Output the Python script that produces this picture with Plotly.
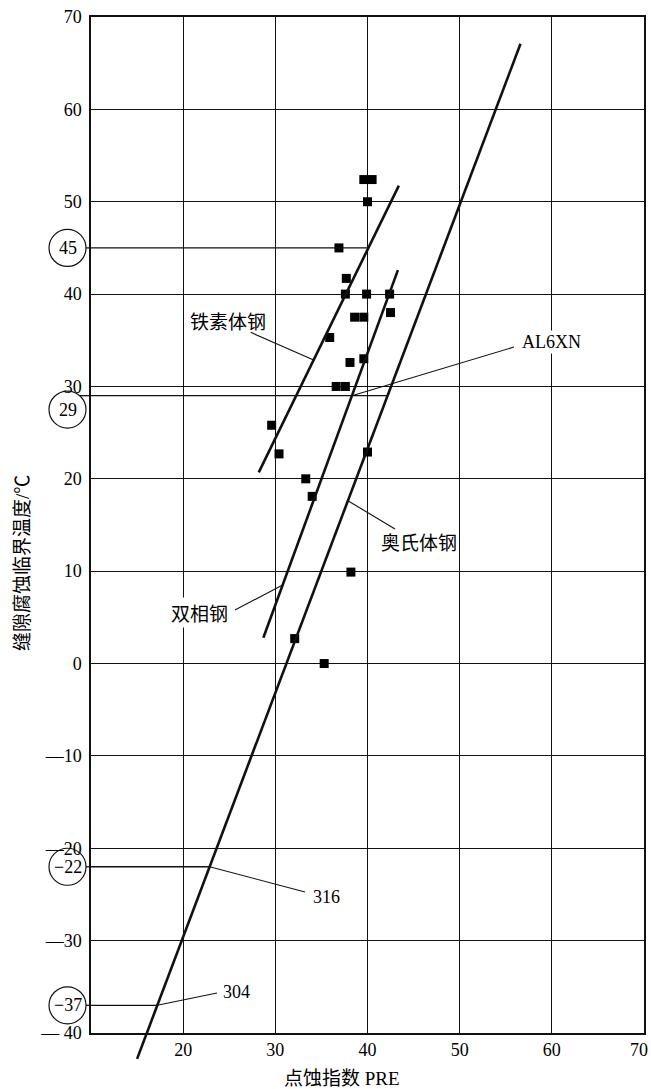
import numpy as np
import plotly.graph_objects as go

# ---- measured data: pitting resistance equivalent vs. critical crevice temperature
pre_values = [39.6, 40.5, 40.0, 36.9, 37.7, 37.6, 39.9, 42.4, 42.5, 38.6, 39.6, 35.9,
              38.1, 39.6, 36.6, 37.6, 29.6, 30.4, 40.0, 33.3, 34.0, 38.2, 32.1, 35.3]
cct_values = [52.4, 52.4, 50.0, 45.0, 41.7, 40.0, 40.0, 40.0, 38.0, 37.5, 37.5, 35.3,
              32.6, 33.0, 30.0, 30.0, 25.8, 22.7, 22.9, 20.0, 18.1, 9.9, 2.7, 0.0]

# ---- fitted trend lines (end points)
ferrite_pre = [28.2, 43.4]
ferrite_cct = [20.7, 51.75]
duplex_pre = [28.7, 43.3]
duplex_cct = [2.8, 42.6]
austenite_pre = [15.0, 56.6]
austenite_cct = [-42.8, 67.1]

# ---- axis ticks
x_ticks = [20, 30, 40, 50, 60, 70]
x_tick_labels = ["20", "30", "40", "50", "60", ""]   # the last one is placed flush with the page edge
x_edge_label = "70"
y_ticks = [-40, -30, -20, -10, 0, 10, 20, 30, 40, 50, 60, 70]
y_tick_labels = ["— 40", "—30", "—20", "—10", "0", "10", "20", "30", "40", "50", "60", "70"]

# ---- highlighted readings (value, line they are read from)
marked_values = [45, 29, -22, -37]
marked_labels = ["45", "29", "−22", "−37"]
marked_lines = ["ferrite", "austenite", "austenite", "austenite"]
# vertical nudge of each circled badge (keeps "29" clear of the "30" tick label)
badge_shift = [0.0, -1.5, 0.0, 0.0]

lines = {
    "ferrite": (ferrite_pre, ferrite_cct),
    "duplex": (duplex_pre, duplex_cct),
    "austenite": (austenite_pre, austenite_cct),
}


def pre_on(line, cct):
    pre, c = lines[line]
    return float(np.interp(cct, c, pre))


# ---- page geometry
W, H = 651, 1089
left, right, top = 91, 7, 17
plot_bottom, paper_bottom = 1033, 1062
x_range = [10, 70]
y_range = [-40, 70]
px_per_unit = (plot_bottom - top) / (y_range[1] - y_range[0])
y_dom0 = (paper_bottom - plot_bottom) / (paper_bottom - top)
y2_low = y_range[1] - (paper_bottom - top) / px_per_unit
plot_w = W - left - right
paper_h = paper_bottom - top

SERIF = "Liberation Serif, Noto Sans CJK SC"
CJK = "Noto Sans CJK SC"
INK = "#111111"

fig = go.Figure()

# trend lines live on an overlay axis pair that reaches slightly below the frame
for name in ["ferrite", "duplex", "austenite"]:
    pre, c = lines[name]
    fig.add_trace(go.Scatter(x=pre, y=c, mode="lines", xaxis="x2", yaxis="y2",
                             line=dict(color=INK, width=2.6), hoverinfo="skip"))

# measured points
fig.add_trace(go.Scatter(x=pre_values, y=cct_values, mode="markers",
                         marker=dict(symbol="square", size=9, color="#000000",
                                     line=dict(width=0)),
                         hoverinfo="skip"))

# horizontal read-off lines for the highlighted values
for v, ln in zip(marked_values, marked_lines):
    fig.add_trace(go.Scatter(x=[x_range[0], pre_on(ln, v)], y=[v, v], mode="lines",
                             line=dict(color=INK, width=1.3), hoverinfo="skip"))

# series labels with leader lines
labels = [
    dict(text="铁素体钢", line="ferrite", at=32.86, tail=(27.33, 35.86), pos=(24.86, 37.19), font=CJK, size=19, bg=False),
    dict(text="AL6XN", line="duplex", at=29, tail=(55.89, 34.27), pos=(60.0, 34.81), font=SERIF, size=18, bg=True),
    dict(text="奥氏体钢", line="austenite", at=17.63, tail=(42.98, 14.56), pos=(45.59, 13.16), font=CJK, size=19, bg=False),
    dict(text="双相钢", line="duplex", at=8.5, tail=(25.62, 5.8), pos=(21.72, 5.58), font=CJK, size=19, bg=True),
    dict(text="316", line="austenite", at=-22, tail=(33.22, -24.74), pos=(35.5, -25.28), font=SERIF, size=18, bg=False),
    dict(text="304", line="austenite", at=-37, tail=(23.67, -35.67), pos=(25.84, -35.56), font=SERIF, size=18, bg=False),
]
annotations = []
for lb in labels:
    x0 = pre_on(lb["line"], lb["at"])
    fig.add_trace(go.Scatter(x=[x0, lb["tail"][0]], y=[lb["at"], lb["tail"][1]], mode="lines",
                             line=dict(color=INK, width=1.1), hoverinfo="skip"))
    annotations.append(dict(x=lb["pos"][0], y=lb["pos"][1], xref="x", yref="y",
                            text=lb["text"], showarrow=False,
                            xanchor="center", yanchor="middle",
                            font=dict(family=lb["font"], size=lb["size"], color="#000000"),
                            bgcolor="white" if lb["bg"] else "rgba(0,0,0,0)",
                            borderpad=1))

# circled values left of the axis
shapes = []
cx = (67.5 - left) / plot_w
r_px = 18.5
rx = r_px / plot_w
ry = r_px / px_per_unit
for v, t, dv in zip(marked_values, marked_labels, badge_shift):
    cy = v + dv
    shapes.append(dict(type="circle", xref="paper", yref="y",
                       x0=cx - rx, x1=cx + rx, y0=cy - ry, y1=cy + ry,
                       line=dict(color=INK, width=1.2), fillcolor="rgba(0,0,0,0)"))
    # connector from the circle rim to the axis, at the value's height
    dy_px = (v - cy) * px_per_unit
    rim = (67.5 + np.sqrt(max(r_px ** 2 - dy_px ** 2, 0.0)) - left) / plot_w
    shapes.append(dict(type="line", xref="paper", yref="y",
                       x0=rim, x1=0, y0=v, y1=v,
                       line=dict(color=INK, width=1.3)))
    annotations.append(dict(x=cx, y=cy, xref="paper", yref="y", text=t, showarrow=False,
                            xanchor="center", yanchor="middle",
                            font=dict(family=SERIF, size=18, color="#000000")))

# last x tick label, kept inside the page
annotations.append(dict(x=(W - 1 - left) / plot_w, y=(paper_bottom - 1050) / paper_h,
                        xref="paper", yref="paper", text=x_edge_label, showarrow=False,
                        xanchor="right", yanchor="middle",
                        font=dict(family=SERIF, size=18, color="#000000")))

# axis titles
annotations.append(dict(x=(22 - left) / plot_w, y=10.88, xref="paper", yref="y",
                        text="缝隙腐蚀临界温度/℃", textangle=-90, showarrow=False,
                        xanchor="center", yanchor="middle",
                        font=dict(family=SERIF, size=19, color="#000000")))
annotations.append(dict(x=37.23, y=(paper_bottom - 1078) / paper_h, xref="x", yref="paper",
                        text="点蚀指数 PRE", showarrow=False,
                        xanchor="center", yanchor="middle",
                        font=dict(family=SERIF, size=19, color="#000000")))

fig.update_layout(
    width=W, height=H,
    margin=dict(l=left, r=right, t=top, b=H - paper_bottom, pad=0, autoexpand=False),
    paper_bgcolor="white", plot_bgcolor="rgba(0,0,0,0)",
    showlegend=False, hovermode=False,
    font=dict(family=SERIF, size=18, color="#000000"),
    xaxis=dict(range=x_range, domain=[0, 1], anchor="y", automargin=False,
               tickmode="array", tickvals=x_ticks, ticktext=x_tick_labels,
               ticks="", ticklabelstandoff=0,
               showgrid=True, gridcolor=INK, gridwidth=1.3,
               showline=True, linecolor=INK, linewidth=1.5, mirror=True,
               zeroline=False, tickfont=dict(family=SERIF, size=18)),
    yaxis=dict(range=y_range, domain=[y_dom0, 1], anchor="x", automargin=False,
               tickmode="array", tickvals=y_ticks, ticktext=y_tick_labels,
               ticks="", ticklabelstandoff=4, ticklabeloverflow="allow",
               showgrid=True, gridcolor=INK, gridwidth=1.3,
               showline=True, linecolor=INK, linewidth=1.5, mirror=True,
               zeroline=False, tickfont=dict(family=SERIF, size=18)),
    xaxis2=dict(range=x_range, domain=[0, 1], anchor="y2", visible=False, automargin=False),
    yaxis2=dict(range=[y2_low, y_range[1]], domain=[0, 1], anchor="x2", visible=False,
                automargin=False),
    shapes=shapes,
    annotations=annotations,
)

fig.write_html("out.html")
